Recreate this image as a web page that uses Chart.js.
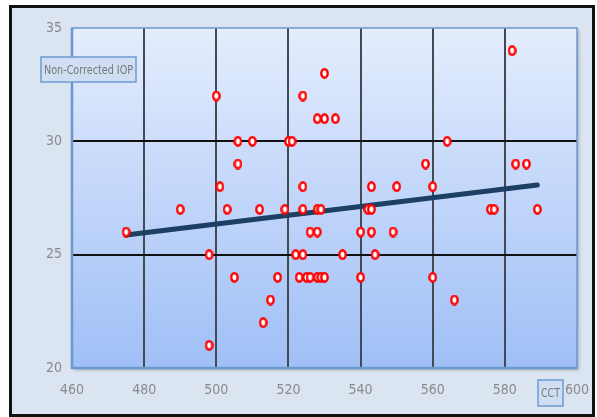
<!DOCTYPE html>
<html>
<head>
<meta charset="utf-8">
<script src="https://cdn.jsdelivr.net/npm/chart.js@4.4.1/dist/chart.umd.min.js"></script>
<style>
  body { margin: 0; background: #fff; }
  #frame { position: absolute; left: 9px; top: 5px; width: 580px; height: 406px;
           border: 3px solid #111; background: #dbe5f1; }
  #wrap { position: absolute; left: 0; top: 0; width: 597px; height: 417px; }
</style>
</head>
<body>
<div id="frame"></div>
<div id="wrap"><canvas id="chart" width="597" height="417"></canvas></div>
<script>
// CCT (x) vs non-corrected IOP (y)
const cct = [475, 490, 498, 498, 500, 501, 503, 505, 506, 506, 510, 512, 513, 515, 517, 519, 520, 521,
  522, 523, 524, 524, 524, 524, 525, 526, 526, 528, 528, 528, 528, 529, 529, 530, 530, 530, 533, 535,
  540, 540, 542, 543, 543, 543, 544, 549, 550, 558, 560, 560, 564, 566, 576, 577, 582, 583, 586, 589];
const iop = [26, 27, 25, 21, 32, 28, 27, 24, 30, 29, 30, 27, 22, 23, 24, 27, 30, 30,
  25, 24, 32, 28, 27, 25, 24, 26, 24, 31, 27, 26, 24, 27, 24, 33, 31, 24, 31, 25,
  26, 24, 27, 28, 27, 26, 25, 26, 28, 29, 28, 24, 30, 23, 27, 27, 34, 29, 29, 27];
const trendX = [475, 589];
const trendY = [25.87, 28.07];
const xTicks = [460, 480, 500, 520, 540, 560, 580, 600];
const yTicks = [20, 25, 30, 35];

const points = cct.map((x, i) => ({ x: x, y: iop[i] }));
const trend = trendX.map((x, i) => ({ x: x, y: trendY[i] }));

// small red ring marker, a bit taller than wide
const marker = document.createElement('canvas');
marker.width = 9; marker.height = 11;
const mc = marker.getContext('2d');
mc.beginPath();
mc.ellipse(4.5, 5.5, 3.2, 4.2, 0, 0, Math.PI * 2);
mc.fillStyle = '#fff';
mc.fill();
mc.lineWidth = 2.4;
mc.strokeStyle = '#ff0000';
mc.stroke();

const font = "'DejaVu Sans Condensed', 'Liberation Sans Narrow', Roboto, sans-serif";

const plotBg = {
  id: 'plotBg',
  beforeDraw(chart) {
    const { ctx, chartArea: a } = chart;
    ctx.save();
    ctx.shadowColor = 'rgba(0,0,0,0.25)';
    ctx.shadowOffsetX = 2; ctx.shadowOffsetY = 2; ctx.shadowBlur = 3;
    const g = ctx.createLinearGradient(0, a.top, 0, a.bottom);
    g.addColorStop(0, '#e4edfd');
    g.addColorStop(1, '#9fbff6');
    ctx.fillStyle = g;
    ctx.fillRect(a.left, a.top, a.right - a.left, a.bottom - a.top);
    ctx.restore();
  },
  afterDatasetsDraw(chart) {
    const { ctx, chartArea: a } = chart;
    ctx.save();
    ctx.strokeStyle = '#6b97cf';
    ctx.lineWidth = 1.5;
    ctx.strokeRect(a.left, a.top, a.right - a.left, a.bottom - a.top);
    ctx.lineWidth = 2.5;
    ctx.beginPath();
    ctx.moveTo(a.left, a.top);
    ctx.lineTo(a.left, a.bottom);
    ctx.lineTo(a.right, a.bottom);
    ctx.stroke();
    ctx.restore();
  },
  afterDraw(chart) {
    const { ctx } = chart;
    function box(text, x, y, w, h, size) {
      ctx.save();
      ctx.fillStyle = '#cfdef3';
      ctx.fillRect(x, y, w, h);
      ctx.strokeStyle = '#6f9bd2';
      ctx.lineWidth = 1.5;
      ctx.strokeRect(x, y, w, h);
      ctx.fillStyle = '#777';
      ctx.font = size + 'px ' + font;
      ctx.textAlign = 'center';
      ctx.textBaseline = 'middle';
      ctx.fillText(text, x + w / 2, y + h / 2 + 1, w - 6);
      ctx.restore();
    }
    box('Non-Corrected IOP', 41, 57, 95, 25, 13);
    box('CCT', 538, 380, 25, 26, 13);
  }
};

new Chart(document.getElementById('chart'), {
  type: 'scatter',
  data: {
    datasets: [
      {
        data: trend,
        type: 'line',
        showLine: true,
        borderColor: '#1c3f63',
        borderWidth: 5,
        pointRadius: 0,
        borderCapStyle: 'round',
        order: 2
      },
      {
        data: points,
        pointStyle: marker,
        pointRadius: 4,
        order: 1
      }
    ]
  },
  options: {
    responsive: false,
    animation: false,
    layout: { padding: { left: 0, top: 28, right: 20, bottom: 0 } },
    plugins: { legend: { display: false }, tooltip: { enabled: false } },
    scales: {
      x: {
        type: 'linear', min: 460, max: 600,
        afterBuildTicks: s => { s.ticks = xTicks.map(v => ({ value: v })); },
        afterFit: s => { s.height = 49; s.paddingRight = 0; s.paddingLeft = 0; },
        grid: {
          color: ctx => (ctx.tick && (ctx.tick.value === 460 || ctx.tick.value === 600)) ? 'rgba(0,0,0,0)' : '#454a52',
          lineWidth: 2, drawTicks: false
        },
        border: { display: false },
        ticks: { color: '#8a8a8a', font: { family: font, size: 14 }, padding: 14 }
      },
      y: {
        min: 20, max: 35,
        afterBuildTicks: s => { s.ticks = yTicks.map(v => ({ value: v })); },
        afterFit: s => { s.width = 72; },
        grid: {
          color: ctx => (ctx.tick && (ctx.tick.value === 20 || ctx.tick.value === 35)) ? 'rgba(0,0,0,0)' : '#111',
          lineWidth: 2, drawTicks: false
        },
        border: { display: false },
        ticks: { color: '#8a8a8a', font: { family: font, size: 14 }, padding: 10 }
      }
    }
  },
  plugins: [plotBg]
});
</script>
</body>
</html>
